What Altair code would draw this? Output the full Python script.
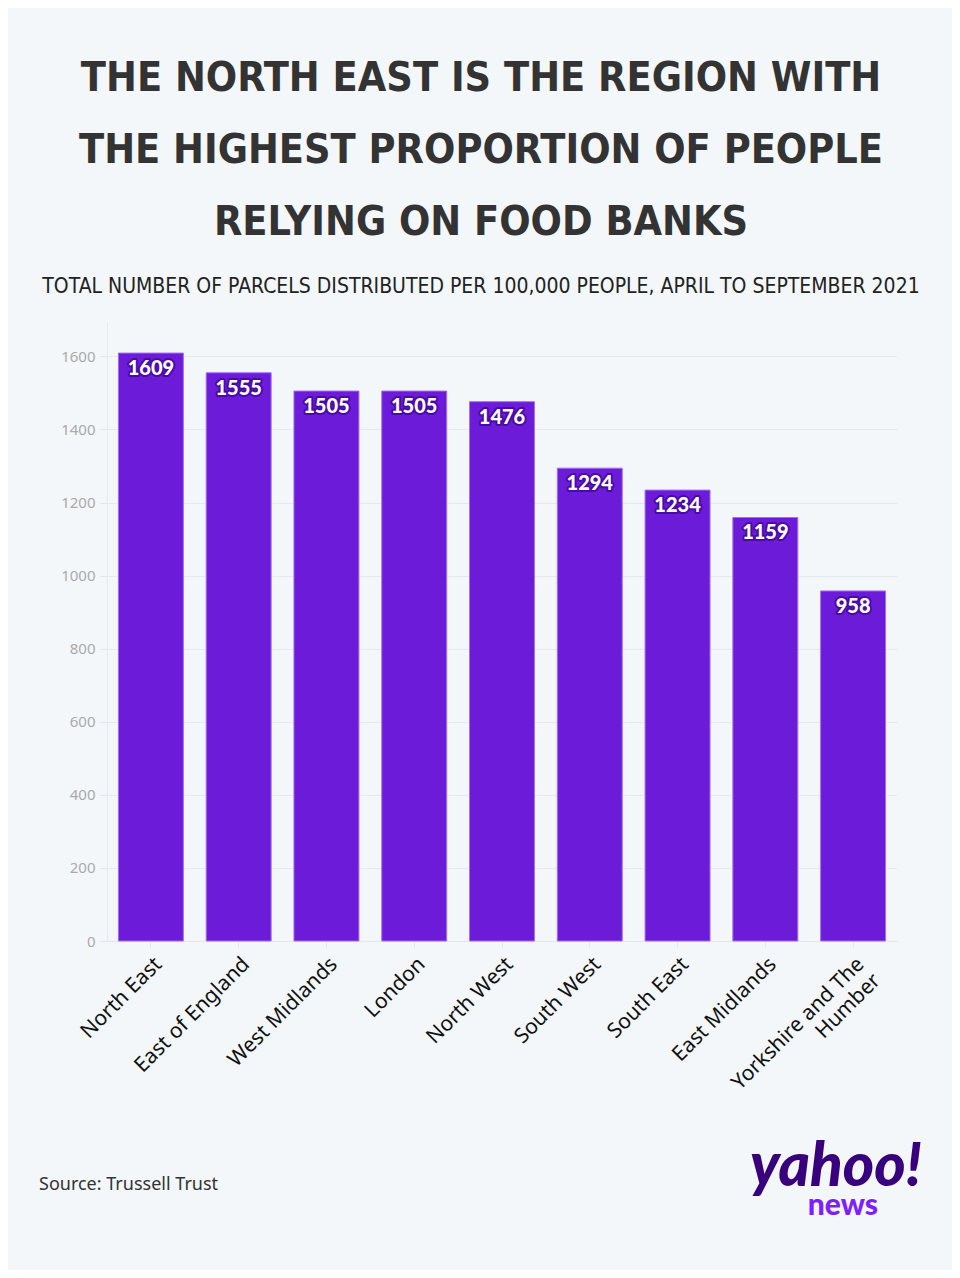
import altair as alt
import pandas as pd

regions = ["North East", "East of England", "West Midlands", "London", "North West",
           "South West", "South East", "East Midlands", "Yorkshire and The Humber"]
parcels = [1609, 1555, 1505, 1505, 1476, 1294, 1234, 1159, 958]
y_ticks = [0, 200, 400, 600, 800, 1000, 1200, 1400, 1600]

title_lines = ["THE NORTH EAST IS THE REGION WITH",
               "THE HIGHEST PROPORTION OF PEOPLE",
               "RELYING ON FOOD BANKS"]
subtitle = "TOTAL NUMBER OF PARCELS DISTRIBUTED PER 100,000 PEOPLE, APRIL TO SEPTEMBER 2021"
source = "Source: Trussell Trust"

df = pd.DataFrame({"region": regions, "parcels": parcels})

BG = "#f4f7fa"
BAR = "#6c1bd9"
W, H = 790, 619

x = alt.X("region:N", sort=regions, title=None,
          scale=alt.Scale(paddingInner=0.26, paddingOuter=0.13),
          axis=alt.Axis(labelAngle=-45, labelFontSize=21, labelColor="#111111",
                        labelFont="Noto Sans", labelPadding=6,
                        labelExpr="datum.label == 'Yorkshire and The Humber' ? ['Yorkshire and The', 'Humber'] : datum.label",
                        tickColor="#e6e6ea", tickSize=6, domainColor="#e6e6ea",
                        labelLineHeight=23))
y = alt.Y("parcels:Q", title=None,
          scale=alt.Scale(domain=[0, 1694], nice=False),
          axis=alt.Axis(values=y_ticks, format="d", labelFontSize=15, labelColor="#aaaaaa",
                        labelFont="Noto Sans", tickColor="#e6e6ea", tickSize=8,
                        labelPadding=4, domainColor="#ebebee",
                        gridColor="#e9e9ed", grid=True))

base = alt.Chart(df)
bars = base.mark_bar(color=BAR, stroke="#a26ef3", strokeWidth=1).encode(x=x, y=y)

lab_outline = base.mark_text(font="Lato", fontWeight=900, fontSize=20, dy=16,
                             baseline="middle", color="#ffffff", stroke="#4a0aa8",
                             strokeWidth=4, strokeJoin="round").encode(
    x=alt.X("region:N", sort=regions), y="parcels:Q", text="parcels:Q")
lab_fill = base.mark_text(font="Lato", fontWeight=900, fontSize=20, dy=16,
                          baseline="middle", color="#ffffff").encode(
    x=alt.X("region:N", sort=regions), y="parcels:Q", text="parcels:Q")

src = alt.Chart(pd.DataFrame({"t": [source]})).mark_text(
    font="Noto Sans", fontSize=18, color="#333333", align="left", baseline="alphabetic"
).encode(x=alt.value(-68), y=alt.value(868), text="t:N")

yahoo = alt.Chart(pd.DataFrame({"t": ["yahoo!"]})).mark_text(
    font="Lato", fontWeight=900, fontStyle="italic", fontSize=60, color="#39007d",
    align="right", baseline="alphabetic"
).encode(x=alt.value(815), y=alt.value(864), text="t:N")

news = alt.Chart(pd.DataFrame({"t": ["news"]})).mark_text(
    font="Lato", fontWeight=900, fontSize=30, color="#7e1fff",
    align="right", baseline="alphabetic"
).encode(x=alt.value(771), y=alt.value(893), text="t:N")

chart = alt.layer(bars, lab_outline, lab_fill, src, yahoo, news).properties(
    width=W, height=H,
    background=BG,
    padding={"left": 99, "top": 314, "right": 55, "bottom": 329},
    autosize=alt.AutoSizeParams(type="none"),
    title=alt.Title(
        text=title_lines, subtitle=subtitle,
        font="Liberation Sans Narrow, DejaVu Sans Condensed, Roboto Condensed, sans-serif",
        fontSize=41, fontWeight=900, color="#333333", lineHeight=72,
        subtitleFont="Liberation Sans Narrow, DejaVu Sans Condensed, sans-serif",
        subtitleFontSize=21, subtitleColor="#222222", subtitleLineHeight=28,
        subtitlePadding=32, anchor="middle", dx=-21, offset=24,
    ),
).configure_view(stroke=None)

chart.save("out.html", embed_options={"renderer": "svg", "actions": False})
